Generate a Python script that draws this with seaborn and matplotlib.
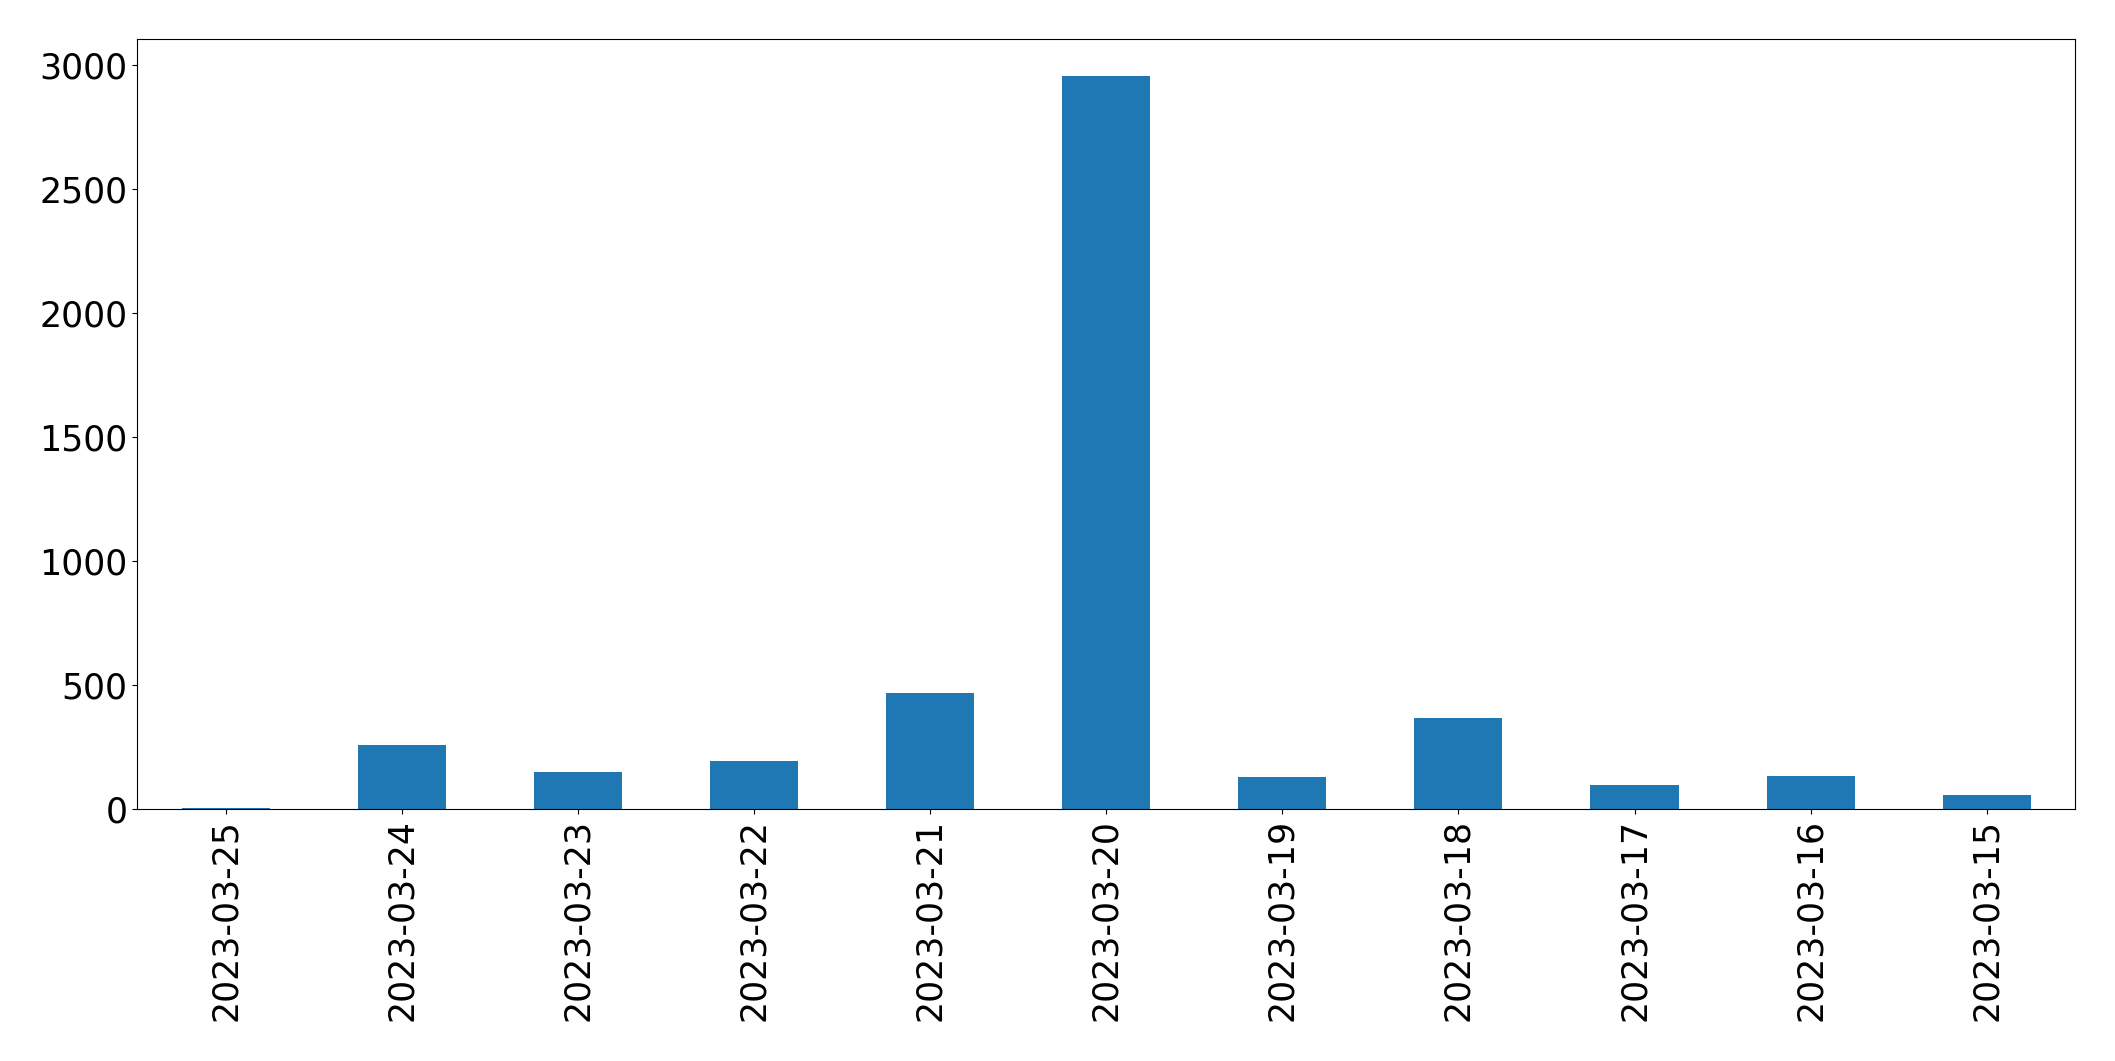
import pandas as pd
import matplotlib.pyplot as plt
import seaborn as sns

# 日付ごとの件数
dates = ["2023-03-25", "2023-03-24", "2023-03-23", "2023-03-22", "2023-03-21", "2023-03-20",
         "2023-03-19", "2023-03-18", "2023-03-17", "2023-03-16", "2023-03-15"]
counts = [6, 258, 149, 194, 467, 2955, 129, 367, 97, 133, 56]

df = pd.DataFrame({"date": dates, "count": counts})

# プロットの作成
fig, ax = plt.subplots(figsize=(21.15, 10.61), dpi=100)
sns.barplot(data=df, x="date", y="count", color="#1f77b4", saturation=1, width=0.5, ax=ax)

ax.set_xlim(-0.5, len(dates) - 0.5)
ax.set_ylim(0, max(counts) * 1.05)
ax.set_xlabel("")
ax.set_ylabel("")
plt.xticks(rotation=90, fontsize=25)
plt.yticks(fontsize=25)

plt.subplots_adjust(left=0.065, right=0.981, top=0.963, bottom=0.2375)
plt.savefig("out.png")
